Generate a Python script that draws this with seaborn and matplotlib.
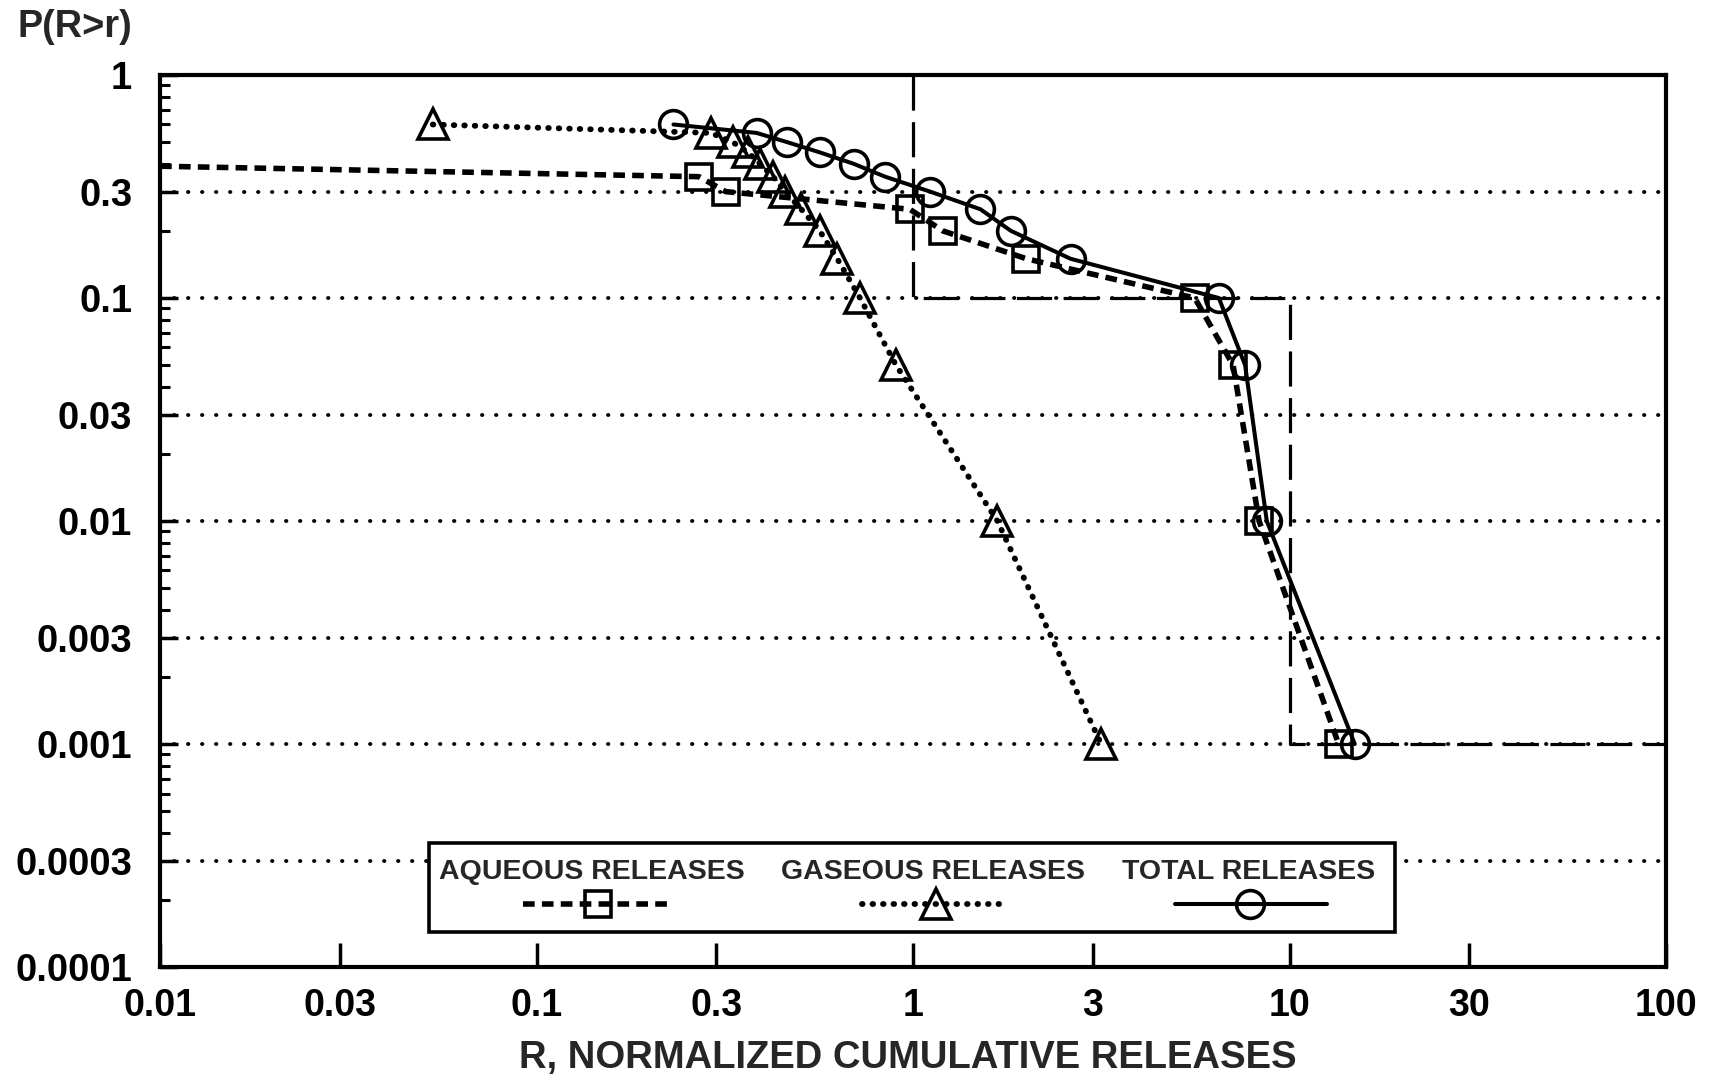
import matplotlib
matplotlib.use("Agg")
import matplotlib.pyplot as plt
import seaborn as sns
import pandas as pd
from matplotlib.ticker import FixedLocator, FixedFormatter, LogLocator, NullLocator, NullFormatter
from matplotlib.lines import Line2D
from matplotlib.patches import Rectangle

# ---------------- data ----------------
aqueous_r = [0.01, 0.27, 0.318, 0.98, 1.20, 2.0, 5.6, 7.08, 8.3, 13.5]
aqueous_p = [0.39, 0.35, 0.30, 0.25, 0.20, 0.15, 0.10, 0.05, 0.01, 0.001]

gaseous_r = [0.053, 0.29, 0.332, 0.364, 0.392, 0.425, 0.457, 0.505, 0.565,
             0.629, 0.723, 0.901, 1.675, 3.16]
gaseous_p = [0.60, 0.55, 0.50, 0.45, 0.40, 0.35, 0.30, 0.25, 0.20,
             0.15, 0.10, 0.05, 0.01, 0.001]

total_r = [0.231, 0.384, 0.463, 0.565, 0.695, 0.843, 1.11, 1.51, 1.82,
           2.62, 6.49, 7.62, 8.7, 14.9]
total_p = [0.60, 0.55, 0.50, 0.45, 0.40, 0.35, 0.30, 0.25, 0.20,
           0.15, 0.10, 0.05, 0.01, 0.001]

# reference envelope (dashed)
envelope_r = [1, 1, 10, 10, 100]
envelope_p = [1, 0.1, 0.1, 0.001, 0.001]

x_ticks = [0.01, 0.03, 0.1, 0.3, 1, 3, 10, 30, 100]
x_tick_labels = ["0.01", "0.03", "0.1", "0.3", "1", "3", "10", "30", "100"]
y_ticks = [1, 0.3, 0.1, 0.03, 0.01, 0.003, 0.001, 0.0003, 0.0001]
y_tick_labels = ["1", "0.3", "0.1", "0.03", "0.01", "0.003", "0.001", "0.0003", "0.0001"]

series_labels = ["AQUEOUS RELEASES", "GASEOUS RELEASES", "TOTAL RELEASES"]
x_label = "R, NORMALIZED CUMULATIVE RELEASES"
y_label = "P(R>r)"

# ---------------- style ----------------
sns.set_theme(style="white")
plt.rcParams["font.family"] = ["Liberation Sans", "DejaVu Sans"]
plt.rcParams["font.weight"] = "bold"
plt.rcParams["axes.edgecolor"] = "black"
plt.rcParams["axes.linewidth"] = 3.0

fig = plt.figure(figsize=(17.1, 10.84), dpi=100)
ax = fig.add_axes([0.0936, 0.1079, 0.8807, 0.8229])
ax.set_xscale("log")
ax.set_yscale("log")
ax.set_xlim(0.01, 100)
ax.set_ylim(0.0001, 1)

# grid (dotted, horizontal only)
ax.set_axisbelow(True)
ax.yaxis.grid(True, which="major", color="black", linewidth=2.8,
              linestyle=(0, (0.1, 3.5)), dash_capstyle="round")
ax.xaxis.grid(False)

mk = dict(markerfacecolor="none", markeredgecolor="black", markeredgewidth=2.6)
sq_size, tri_size, circ_size = 18.5, 21, 20

# envelope
sns.lineplot(x=envelope_r, y=envelope_p, ax=ax, sort=False, estimator=None,
             color="black", linewidth=2.3, dashes=(11, 3.6), zorder=2)

# aqueous
sns.lineplot(x=aqueous_r, y=aqueous_p, ax=ax, sort=False, estimator=None,
             color="black", linewidth=4.0, dashes=(2.1, 1.3),
             marker="s", markersize=sq_size, markevery=list(range(1, len(aqueous_r))),
             zorder=3, **mk)

# gaseous
sns.lineplot(x=gaseous_r, y=gaseous_p, ax=ax, sort=False, estimator=None,
             color="black", linewidth=4.2, dashes=(0.1, 1.7),
             dash_capstyle="round", marker="^", markersize=tri_size,
             zorder=3, **mk)

# total
sns.lineplot(x=total_r, y=total_p, ax=ax, sort=False, estimator=None,
             color="black", linewidth=2.9, marker="o", markersize=circ_size,
             zorder=4, **mk)

# ticks
ax.xaxis.set_major_locator(FixedLocator(x_ticks))
ax.xaxis.set_major_formatter(FixedFormatter(x_tick_labels))
ax.xaxis.set_minor_locator(NullLocator())
ax.yaxis.set_major_locator(FixedLocator(y_ticks))
ax.yaxis.set_major_formatter(FixedFormatter(y_tick_labels))
ax.yaxis.set_minor_locator(LogLocator(base=10.0, subs=(2, 4, 5, 6, 7, 8, 9), numticks=30))
ax.yaxis.set_minor_formatter(NullFormatter())

ax.tick_params(axis="x", which="major", direction="in", length=17, width=2.5,
               pad=15, labelsize=27, top=False, bottom=True, colors="black")
ax.tick_params(axis="y", which="major", direction="in", length=13, width=2.5,
               pad=20, labelsize=27.5, right=False, left=True, colors="black")
ax.tick_params(axis="y", which="minor", direction="in", length=7, width=2.2,
               right=False, left=True, colors="black")
for s in ax.spines.values():
    s.set_linewidth(3.0)
    s.set_color("black")
    s.set_zorder(6)

ax.set_xlabel("")
ax.set_ylabel("")
fig.text(0.531, 1 - 1058 / 1084, x_label, ha="center", va="center", fontsize=27.5,
         fontweight="bold")
fig.text(0.0439, 1 - 27 / 1084, y_label, ha="center", va="center", fontsize=27.3,
         fontweight="bold")

# ---------------- legend (custom layout: label above sample) ----------------
box = Rectangle((0.1786, 0.039), 0.820 - 0.1786, 0.139 - 0.039,
                transform=ax.transAxes, facecolor="white", edgecolor="black",
                linewidth=2.6, zorder=7)
ax.add_patch(box)
text_x = [0.287, 0.513, 0.723]
sample_x = [(0.241, 0.339, 0.291), (0.466, 0.562, 0.515), (0.674, 0.775, 0.724)]
styles = [
    dict(linewidth=4.0, dashes=(2.1, 1.3), marker="s", markersize=sq_size),
    dict(linewidth=4.2, dashes=(0.1, 1.7), dash_capstyle="round", marker="^", markersize=tri_size),
    dict(linewidth=2.9, marker="o", markersize=circ_size),
]
for lbl, tx, (x0, x1, xm), st in zip(series_labels, text_x, sample_x, styles):
    ax.text(tx, 0.1065, lbl, transform=ax.transAxes, ha="center", va="center",
            fontsize=20.5, fontweight="bold", zorder=8)
    st = dict(st)
    marker = st.pop("marker")
    ms = st.pop("markersize")
    ax.add_line(Line2D([x0, x1], [0.0706, 0.0706], transform=ax.transAxes,
                       color="black", zorder=8, **st))
    ax.add_line(Line2D([xm], [0.0706], transform=ax.transAxes, color="black",
                       linestyle="none", marker=marker, markersize=ms, zorder=9, **mk))

fig.savefig("out.png", dpi=100)
